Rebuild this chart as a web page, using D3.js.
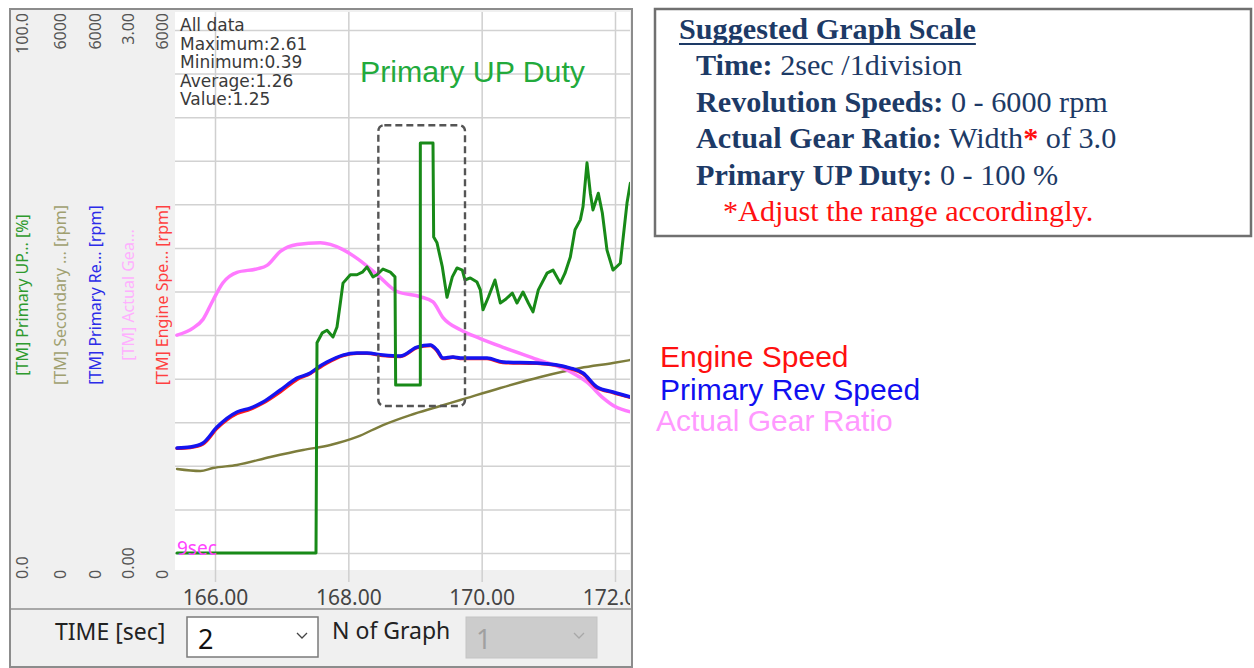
<!DOCTYPE html>
<html><head><meta charset="utf-8">
<script src="https://cdn.jsdelivr.net/npm/d3@7"></script>
<style>
html,body{margin:0;padding:0;background:#fff;}
svg{display:block;}
</style></head>
<body>
<svg id="c" width="1254" height="668"></svg>
<script>
// ---------------- DATA ----------------
const xTickValues = [166, 168, 170, 172];
const axisTopLabels = ["100.0", "6000", "6000", "3.00", "6000"];
const axisBottomLabels = ["0.0", "0", "0", "0.00", "0"];
const axisTitles = ["[TM] Primary UP... [%]", "[TM] Secondary ... [rpm]", "[TM] Primary Re... [rpm]", "[TM] Actual Gea...", "[TM] Engine Spe... [rpm]"];
const statLines = ["All data", "Maximum:2.61", "Minimum:0.39", "Average:1.26", "Value:1.25"];

// Actual gear ratio (0 - 3.00)
const gearTime  = [165.43,165.67,165.82,165.97,166.12,166.33,166.63,166.78,166.98,167.23,167.58,167.73,167.92,168.13,168.33,168.48,168.73,169.08,169.27,169.42,169.68,169.98,170.32,170.83,171.33,171.58,171.82,172.00,172.23];
const gearRatio = [1.25,1.29,1.34,1.45,1.55,1.61,1.63,1.65,1.73,1.77,1.78,1.77,1.74,1.69,1.63,1.58,1.50,1.47,1.44,1.35,1.28,1.23,1.18,1.11,1.04,0.98,0.89,0.84,0.81];

// Primary rev speed (0 - 6000 rpm)
const primTime = [165.43,165.63,165.82,166.03,166.33,166.53,166.72,166.98,167.23,167.43,167.53,167.68,167.92,168.13,168.28,168.52,168.78,169.03,169.23,169.33,169.42,169.57,169.68,170.08,170.32,170.83,171.33,171.52,171.73,171.97,172.23];
const primRpm  = [1205,1216,1262,1445,1618,1663,1732,1870,2008,2065,2122,2191,2271,2294,2294,2271,2260,2363,2386,2329,2237,2249,2237,2237,2191,2180,2122,2065,1904,1847,1790];

// Engine speed (0 - 6000 rpm)
const engTime = [165.43,165.63,165.82,166.03,166.33,166.53,166.72,166.98,167.23,167.43,167.53,167.68,167.92,168.13,168.28,168.52,168.78,169.03,169.23,169.33,169.42,169.57,169.68,170.08,170.32,170.83,171.33,171.52,171.73,171.97,172.23];
const engRpm  = [1200,1210,1250,1430,1600,1650,1720,1850,1990,2060,2110,2180,2265,2290,2290,2265,2255,2355,2380,2320,2230,2245,2230,2230,2185,2175,2115,2055,1895,1840,1785];

// Secondary rev speed (0 - 6000 rpm)
const secTime = [165.43,165.78,165.97,166.33,166.83,167.32,167.73,168.13,168.52,168.93,169.33,169.68,170.28,170.88,171.48,171.97,172.23];
const secRpm  = [964,941,975,1010,1101,1182,1239,1331,1468,1583,1675,1755,1893,2019,2122,2180,2214];

// Primary UP duty (0 - 100 %)
const dutyTime = [165.43,167.515,167.53,167.61,167.68,167.77,167.83,167.88,167.92,168.03,168.13,168.21,168.28,168.37,168.43,168.52,168.63,168.70,168.71,169.08,169.08,169.27,169.28,169.33,169.41,169.48,169.56,169.63,169.71,169.75,169.83,169.93,169.98,170.02,170.10,170.20,170.28,170.35,170.46,170.53,170.62,170.70,170.77,170.85,170.98,171.07,171.18,171.25,171.33,171.40,171.48,171.52,171.58,171.63,171.67,171.75,171.81,171.88,171.97,172.08,172.18,172.23];
const dutyPct  = [0,0,40.2,42.1,42.6,41.3,43.2,47.8,51.6,53.2,53.2,53.7,54.7,52.8,53.2,54.3,53.7,52.8,32.1,32.1,78.4,78.4,60.4,59.3,54.7,48.9,52.8,54.5,54.1,52.2,52.6,51.8,50.3,46.5,48.9,52.2,47.8,48.4,49.7,47.8,49.9,47.8,46.1,50.3,53.5,54.1,51.6,53.5,56.6,61.8,63.7,66.2,74.6,68.8,65.6,68.8,65.0,57.9,54.1,55.4,66.9,70.7];

// Highlight box (time range, duty range)
const boxTime = [168.45, 169.75];
const boxPct = [28.1, 81.8];

// ---------------- LAYOUT ----------------
const svg = d3.select("#c");
const PL = 175, PR = 630, PT = 12, PB = 570;
const Y0 = 553, Y1 = 30;

const x = d3.scaleLinear().domain([165.4, 172.225]).range([PL, PR]);
const yPct = d3.scaleLinear().domain([0, 100]).range([Y0, Y1]);
const yRpm = d3.scaleLinear().domain([0, 6000]).range([Y0, Y1]);
const yRatio = d3.scaleLinear().domain([0, 3]).range([Y0, Y1]);

const defs = svg.append("defs");
defs.append("clipPath").attr("id", "plotclip").append("rect")
  .attr("x", PL).attr("y", PT).attr("width", PR - PL).attr("height", PB - PT);
defs.append("clipPath").attr("id", "frameclip").append("rect")
  .attr("x", 10).attr("y", 9).attr("width", PR - 10).attr("height", 660);

// window frame
svg.append("rect").attr("x", 10).attr("y", 9).attr("width", 622).attr("height", 658)
  .attr("fill", "#f0f0f0");
svg.append("rect").attr("x", PL).attr("y", PT).attr("width", PR - PL).attr("height", PB - PT)
  .attr("fill", "#ffffff");

// grid lines
const gx = svg.append("g").attr("transform", `translate(0,582)`)
  .call(d3.axisBottom(x).tickValues(xTickValues).tickSize(-(582 - PT)).tickFormat(""));
gx.select(".domain").remove();
gx.selectAll("line").attr("stroke", "#cfcfcf").attr("stroke-width", 1.5);

const gy = svg.append("g").attr("transform", `translate(${PL},0)`)
  .call(d3.axisLeft(yRpm).tickValues(d3.range(0, 6001, 500)).tickSize(-(PR - PL)).tickFormat(""));
gy.select(".domain").remove();
gy.selectAll("line").attr("stroke", "#d2d2d2").attr("stroke-width", 1.5);

// x tick labels (clipped at the window's right edge)
const xlWrap = svg.append("g").attr("clip-path", "url(#frameclip)");
const xl = xlWrap.append("g").attr("transform", `translate(0,582)`)
  .call(d3.axisBottom(x).tickValues(xTickValues).tickSize(0).tickPadding(8).tickFormat(d3.format(".2f")));
xl.select(".domain").remove();
xl.selectAll("text").attr("font-family", "Noto Sans").attr("font-size", 21).attr("fill", "#444");

// frame borders
svg.append("line").attr("x1", 10).attr("x2", 632).attr("y1", 609).attr("y2", 609).attr("stroke", "#a8a8a8").attr("stroke-width", 2);
svg.append("rect").attr("x", 10).attr("y", 9).attr("width", 622).attr("height", 658)
  .attr("fill", "none").attr("stroke", "#8c8c8c").attr("stroke-width", 2);

// left axis labels
const colX = [22, 60, 95, 128, 162];
const titleColors = ["#2e9a2e", "#a0a070", "#2b2be8", "#ffb0ff", "#ff4040"];
axisTopLabels.forEach((t, i) => {
  svg.append("text").attr("transform", `translate(${colX[i]},13) rotate(-90)`)
    .attr("text-anchor", "end").attr("dominant-baseline", "central")
    .attr("font-family", "Noto Sans").attr("font-size", 16).attr("fill", "#555").text(t);
});
axisBottomLabels.forEach((t, i) => {
  svg.append("text").attr("transform", `translate(${colX[i]},579) rotate(-90)`)
    .attr("text-anchor", "start").attr("dominant-baseline", "central")
    .attr("font-family", "Noto Sans").attr("font-size", 16).attr("fill", "#555").text(t);
});
axisTitles.forEach((t, i) => {
  svg.append("text").attr("transform", `translate(${colX[i]},295) rotate(-90)`)
    .attr("text-anchor", "middle").attr("dominant-baseline", "central")
    .attr("font-family", "Noto Sans").attr("font-size", 16).attr("fill", titleColors[i]).text(t);
});

// series
const plot = svg.append("g").attr("clip-path", "url(#plotclip)");
function drawLine(times, vals, yS, color, w, curve) {
  const pts = times.map((t, i) => [t, vals[i]]);
  plot.append("path").datum(pts)
    .attr("fill", "none").attr("stroke", color).attr("stroke-width", w)
    .attr("stroke-linejoin", "round").attr("stroke-linecap", "round")
    .attr("d", d3.line().x(d => x(d[0])).y(d => yS(d[1])).curve(curve));
}
drawLine(secTime, secRpm, yRpm, "#7d7d3c", 2.4, d3.curveMonotoneX);
drawLine(gearTime, gearRatio, yRatio, "#ff7aff", 3.5, d3.curveMonotoneX);
drawLine(engTime, engRpm, yRpm, "#ff1a1a", 3.4, d3.curveMonotoneX);
drawLine(primTime, primRpm, yRpm, "#1414f0", 3.4, d3.curveMonotoneX);
drawLine(dutyTime, dutyPct, yPct, "#188a18", 3, d3.curveLinear);

// highlight box
plot.append("rect")
  .attr("x", x(boxTime[0])).attr("y", yPct(boxPct[1]))
  .attr("width", x(boxTime[1]) - x(boxTime[0])).attr("height", yPct(boxPct[0]) - yPct(boxPct[1]))
  .attr("rx", 6).attr("fill", "none").attr("stroke", "#555").attr("stroke-width", 2.4)
  .attr("stroke-dasharray", "7,4");

// stats
statLines.forEach((t, i) => {
  svg.append("text").attr("x", 180).attr("y", 31 + i * 18.5)
    .attr("font-family", "DejaVu Sans").attr("font-size", 17).attr("fill", "#3a3a3a").text(t);
});
// 9sec label
svg.append("text").attr("x", 177).attr("y", 555).attr("font-family", "Noto Sans").attr("font-size", 19)
  .attr("fill", "#ff44ff").text("9sec");

// Primary UP Duty title
svg.append("text").attr("x", 360).attr("y", 82).attr("font-family", "Liberation Sans").attr("font-size", 30.3)
  .attr("fill", "#22aa3c").text("Primary UP Duty");

// bottom control bar
svg.append("text").attr("x", 55).attr("y", 640).attr("font-family", "Noto Sans").attr("font-size", 23)
  .attr("fill", "#222").text("TIME [sec]");
svg.append("rect").attr("x", 187).attr("y", 617).attr("width", 131).attr("height", 40)
  .attr("fill", "#fff").attr("stroke", "#7a7a7a").attr("stroke-width", 1.5);
svg.append("text").attr("x", 198).attr("y", 649).attr("font-family", "Noto Sans").attr("font-size", 27)
  .attr("fill", "#111").text("2");
svg.append("path").attr("d", "M297,633 L302,638 L307,633").attr("fill", "none").attr("stroke", "#444").attr("stroke-width", 1.3);
svg.append("text").attr("x", 332).attr("y", 639).attr("font-family", "Noto Sans").attr("font-size", 23)
  .attr("fill", "#222").text("N of Graph");
svg.append("rect").attr("x", 466).attr("y", 617).attr("width", 131).attr("height", 41)
  .attr("fill", "#cccccc").attr("stroke", "#c4c4c4").attr("stroke-width", 1);
svg.append("text").attr("x", 476).attr("y", 649).attr("font-family", "Noto Sans").attr("font-size", 27)
  .attr("fill", "#a0a0a0").text("1");
svg.append("path").attr("d", "M574,633 L579,638 L584,633").attr("fill", "none").attr("stroke", "#a8a8a8").attr("stroke-width", 1.3);

// legend labels
const legendItems = [
  {t: "Engine Speed", c: "#ff1010", x: 660, y: 367},
  {t: "Primary Rev Speed", c: "#1010f0", x: 660, y: 400},
  {t: "Actual Gear Ratio", c: "#ff99ff", x: 656, y: 431}
];
legendItems.forEach(d => {
  svg.append("text").attr("x", d.x).attr("y", d.y).attr("font-family", "Liberation Sans")
    .attr("font-size", 30).attr("fill", d.c).text(d.t);
});

// Suggested scale box
svg.append("rect").attr("x", 655).attr("y", 9).attr("width", 596).attr("height", 227)
  .attr("fill", "#fff").attr("stroke", "#707070").attr("stroke-width", 2.5);
const navy = "#1d3a66";
const FS = 30.2;
const title = svg.append("text").attr("x", 679).attr("y", 39).attr("font-family", "Liberation Serif")
  .attr("font-size", FS).attr("font-weight", "bold").attr("fill", navy).text("Suggested Graph Scale");
const tw = title.node().getComputedTextLength();
svg.append("line").attr("x1", 679).attr("x2", 679 + tw).attr("y1", 44).attr("y2", 44)
  .attr("stroke", navy).attr("stroke-width", 2);
const rows = [
  {b: "Time:", r: " 2sec /1division", y: 75},
  {b: "Revolution Speeds:", r: " 0 - 6000 rpm", y: 112},
  {b: "Actual Gear Ratio:", r: " Width", star: true, r2: " of 3.0", y: 148},
  {b: "Primary UP Duty:", r: " 0 - 100 %", y: 185}
];
rows.forEach(d => {
  const t = svg.append("text").attr("x", 696).attr("y", d.y).attr("font-family", "Liberation Serif")
    .attr("font-size", FS).attr("fill", navy);
  t.append("tspan").attr("font-weight", "bold").text(d.b);
  t.append("tspan").text(d.r);
  if (d.star) {
    t.append("tspan").attr("fill", "#ff1010").attr("font-weight", "bold").text("*");
    t.append("tspan").text(d.r2);
  }
});
svg.append("text").attr("x", 723).attr("y", 221).attr("font-family", "Liberation Serif")
  .attr("font-size", FS).attr("fill", "#ff1010").text("*Adjust the range accordingly.");
</script>
</body></html>
